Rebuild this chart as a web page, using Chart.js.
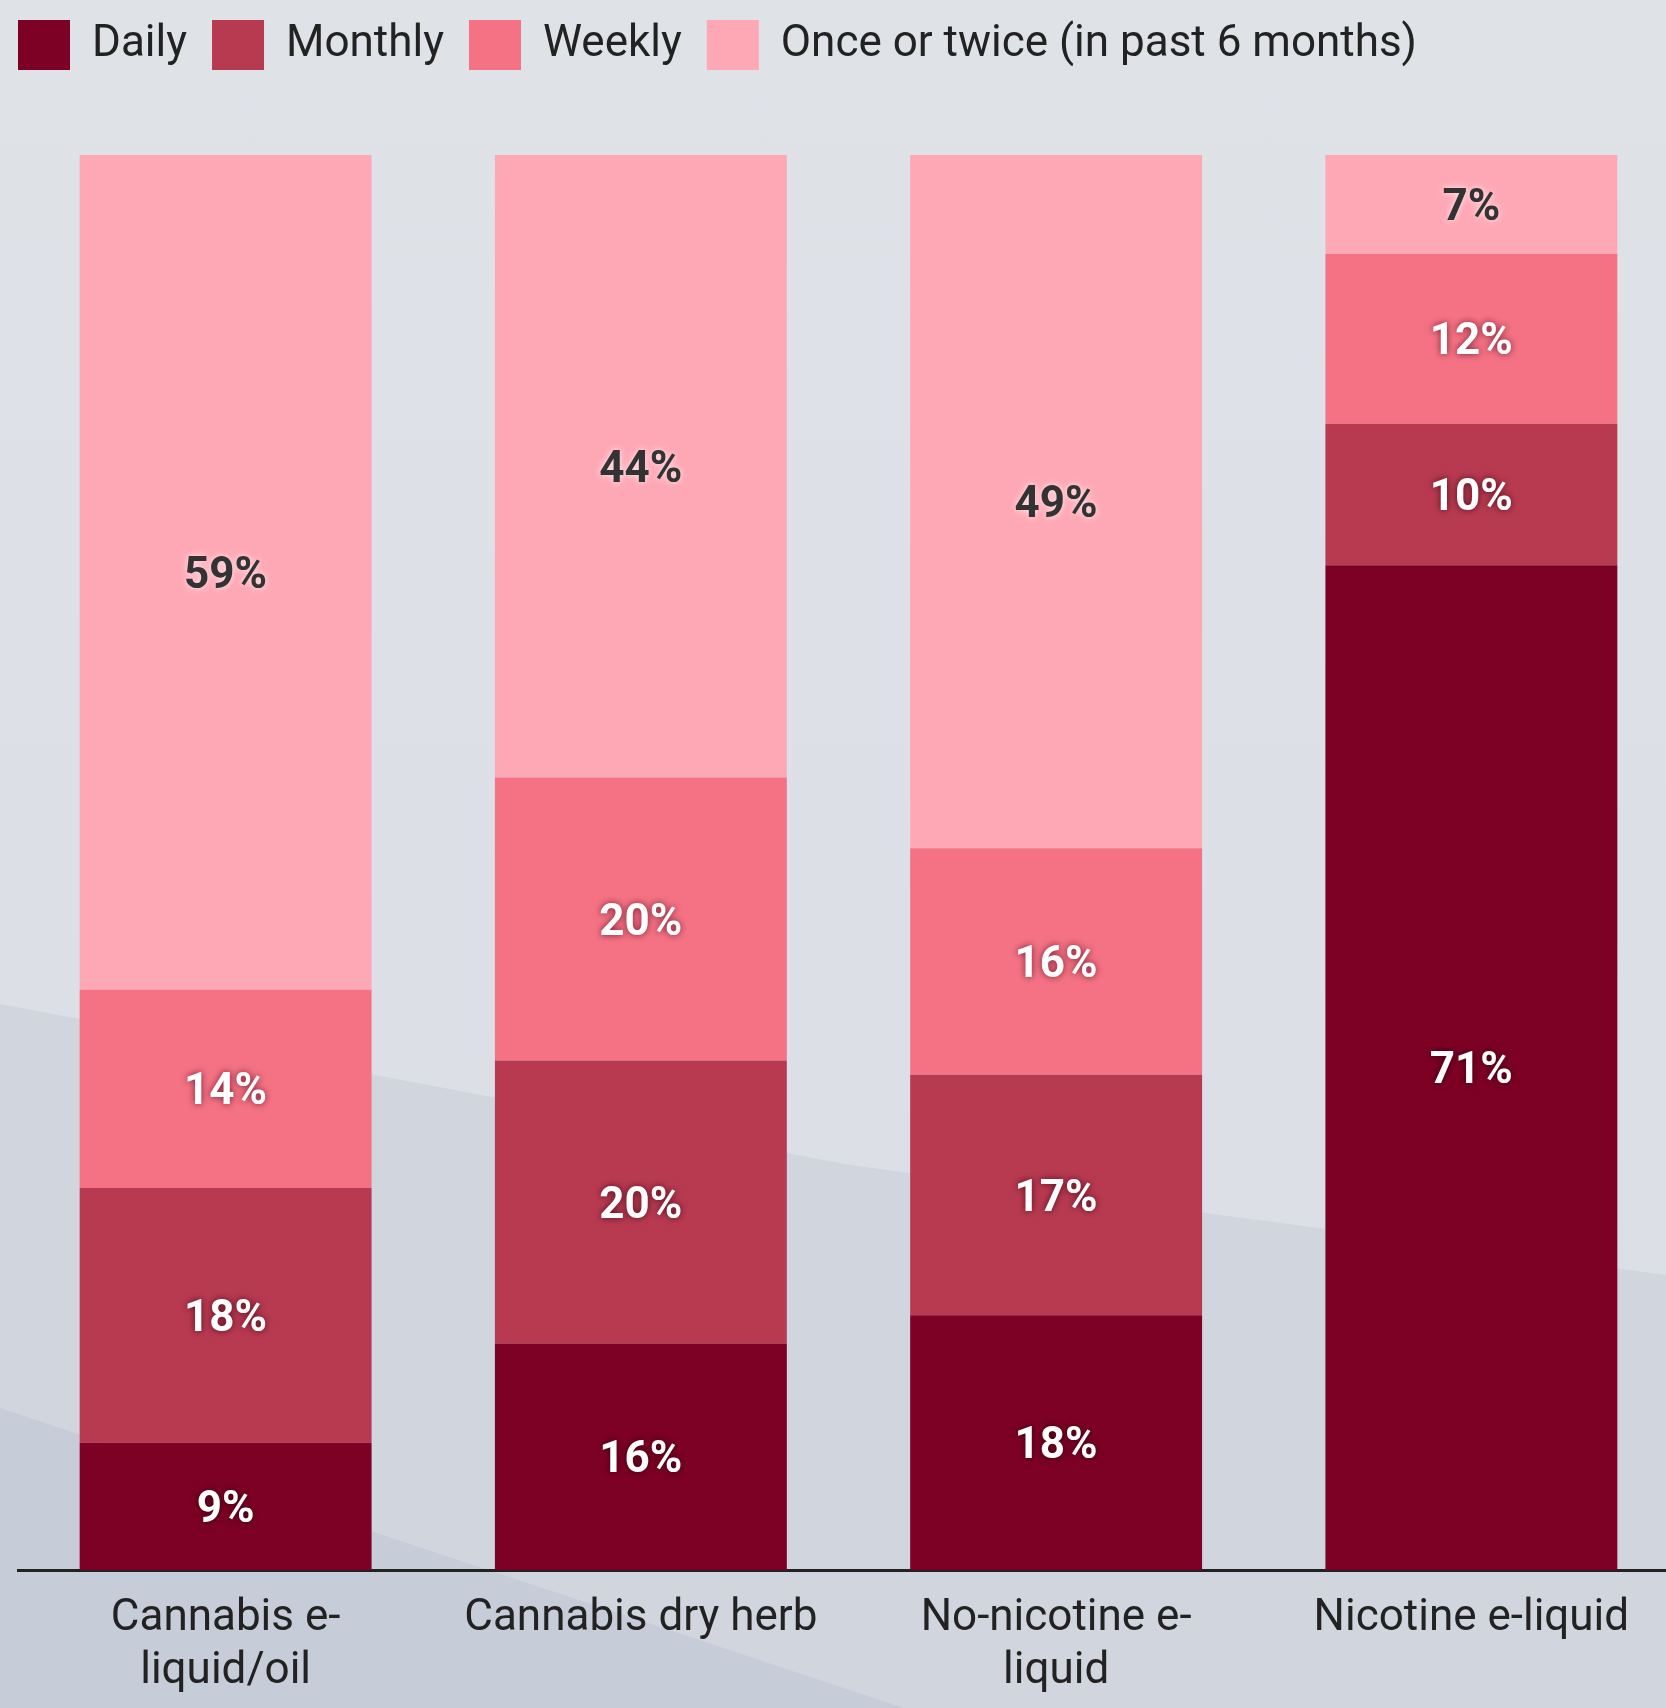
<!DOCTYPE html>
<html>
<head>
<meta charset="utf-8">
<script src="https://cdn.jsdelivr.net/npm/chart.js@4.4.1/dist/chart.umd.min.js"></script>
<style>
  html, body { margin: 0; padding: 0; }
  body {
    width: 1666px; height: 1708px; overflow: hidden; position: relative;
    background: linear-gradient(180deg, #dfe2e7 0%, #dadde4 100%);
    font-family: Roboto, sans-serif;
  }
  .band { position: absolute; left: 0; top: 0; width: 1666px; height: 1708px; }
  .band1 { background: #d0d5de; clip-path: polygon(0 1004px, 850px 1165px, 1666px 1275px, 1666px 1708px, 0 1708px); }
  .band2 { background: #c6ccd8; clip-path: polygon(0 1408px, 910px 1710px, 0 1710px); }
  #chart_usage { position: absolute; left: -7px; top: -7px; }
</style>
</head>
<body>
<div class="band band1"></div>
<div class="band band2"></div>
<canvas id="chart_usage" width="1686" height="1715"></canvas>
<script>
var categories = [
    ['Cannabis e-', 'liquid/oil'],
    'Cannabis dry herb',
    ['No-nicotine e-', 'liquid'],
    'Nicotine e-liquid'
];
var seriesNames = ['Daily', 'Monthly', 'Weekly', 'Once or twice (in past 6 months)'];
var daily = [9, 16, 18, 71];
var monthly = [18, 20, 17, 10];
var weekly = [14, 20, 16, 12];
var onceOrTwice = [59, 44, 49, 7];

// percent labels in the middle of every segment
var segmentLabels = {
    id: 'segmentLabels',
    afterDatasetsDraw: (chart) => {
        const ctx = chart.ctx;
        ctx.save();
        ctx.font = 'bold 44px Roboto';
        ctx.textAlign = 'center';
        ctx.textBaseline = 'middle';
        chart.data.datasets.forEach((ds, i) => {
            const meta = chart.getDatasetMeta(i);
            meta.data.forEach((bar, j) => {
                const p = bar.getProps(['x', 'y', 'base'], true);
                ctx.shadowColor = ds.labelShadow;
                ctx.shadowBlur = 7;
                ctx.fillStyle = ds.labelColor;
                ctx.fillText(ds.data[j] + '%', p.x, (p.y + p.base) / 2 + 4.5);
            });
        });
        ctx.restore();
    }
};

// room under the legend
var legendRoom = {
    id: 'legendRoom',
    beforeInit: (chart) => {
        const fit = chart.legend.fit;
        chart.legend.fit = function () {
            fit.call(this);
            this.height = 160;
        };
    }
};

var chart_usage = new Chart(document.getElementById('chart_usage'), {
    type: 'bar',
    data: {
        labels: categories,
        datasets: [
            { label: seriesNames[0], data: daily, backgroundColor: '#7d0025', labelColor: '#ffffff', labelShadow: 'rgba(40,0,10,0.8)' },
            { label: seriesNames[1], data: monthly, backgroundColor: '#b83a51', labelColor: '#ffffff', labelShadow: 'rgba(60,0,15,0.8)' },
            { label: seriesNames[2], data: weekly, backgroundColor: '#f47284', labelColor: '#ffffff', labelShadow: 'rgba(80,0,20,0.75)' },
            { label: seriesNames[3], data: onceOrTwice, backgroundColor: '#ffa8b5', labelColor: '#333333', labelShadow: 'rgba(255,240,244,0.95)' }
        ]
    },
    options: {
        responsive: false,
        animation: false,
        layout: { padding: { top: 2 } },
        datasets: {
            bar: {
                borderWidth: 0,
                barPercentage: 0.703,
                categoryPercentage: 1
            }
        },
        plugins: {
            legend: {
                display: true,
                position: 'top',
                align: 'start',
                labels: {
                    boxWidth: 52,
                    boxHeight: 50,
                    padding: 25,
                    color: '#222222',
                    font: { family: 'Roboto', size: 44 }
                }
            },
            tooltip: { enabled: false }
        },
        scales: {
            x: {
                stacked: true,
                grid: { display: false },
                border: { display: true, color: '#222222', width: 3 },
                ticks: {
                    color: '#222222',
                    padding: 15,
                    autoSkip: false,
                    maxRotation: 0,
                    font: { family: 'Roboto', size: 44, lineHeight: 1.2 }
                },
                afterFit: (scale) => { scale.height = 138; }
            },
            y: {
                stacked: true,
                min: 0,
                max: 100,
                grid: { display: false },
                border: { display: false },
                ticks: { display: false },
                afterFit: (scale) => { scale.width = 25; }
            }
        }
    },
    plugins: [legendRoom, segmentLabels]
});
</script>
</body>
</html>
